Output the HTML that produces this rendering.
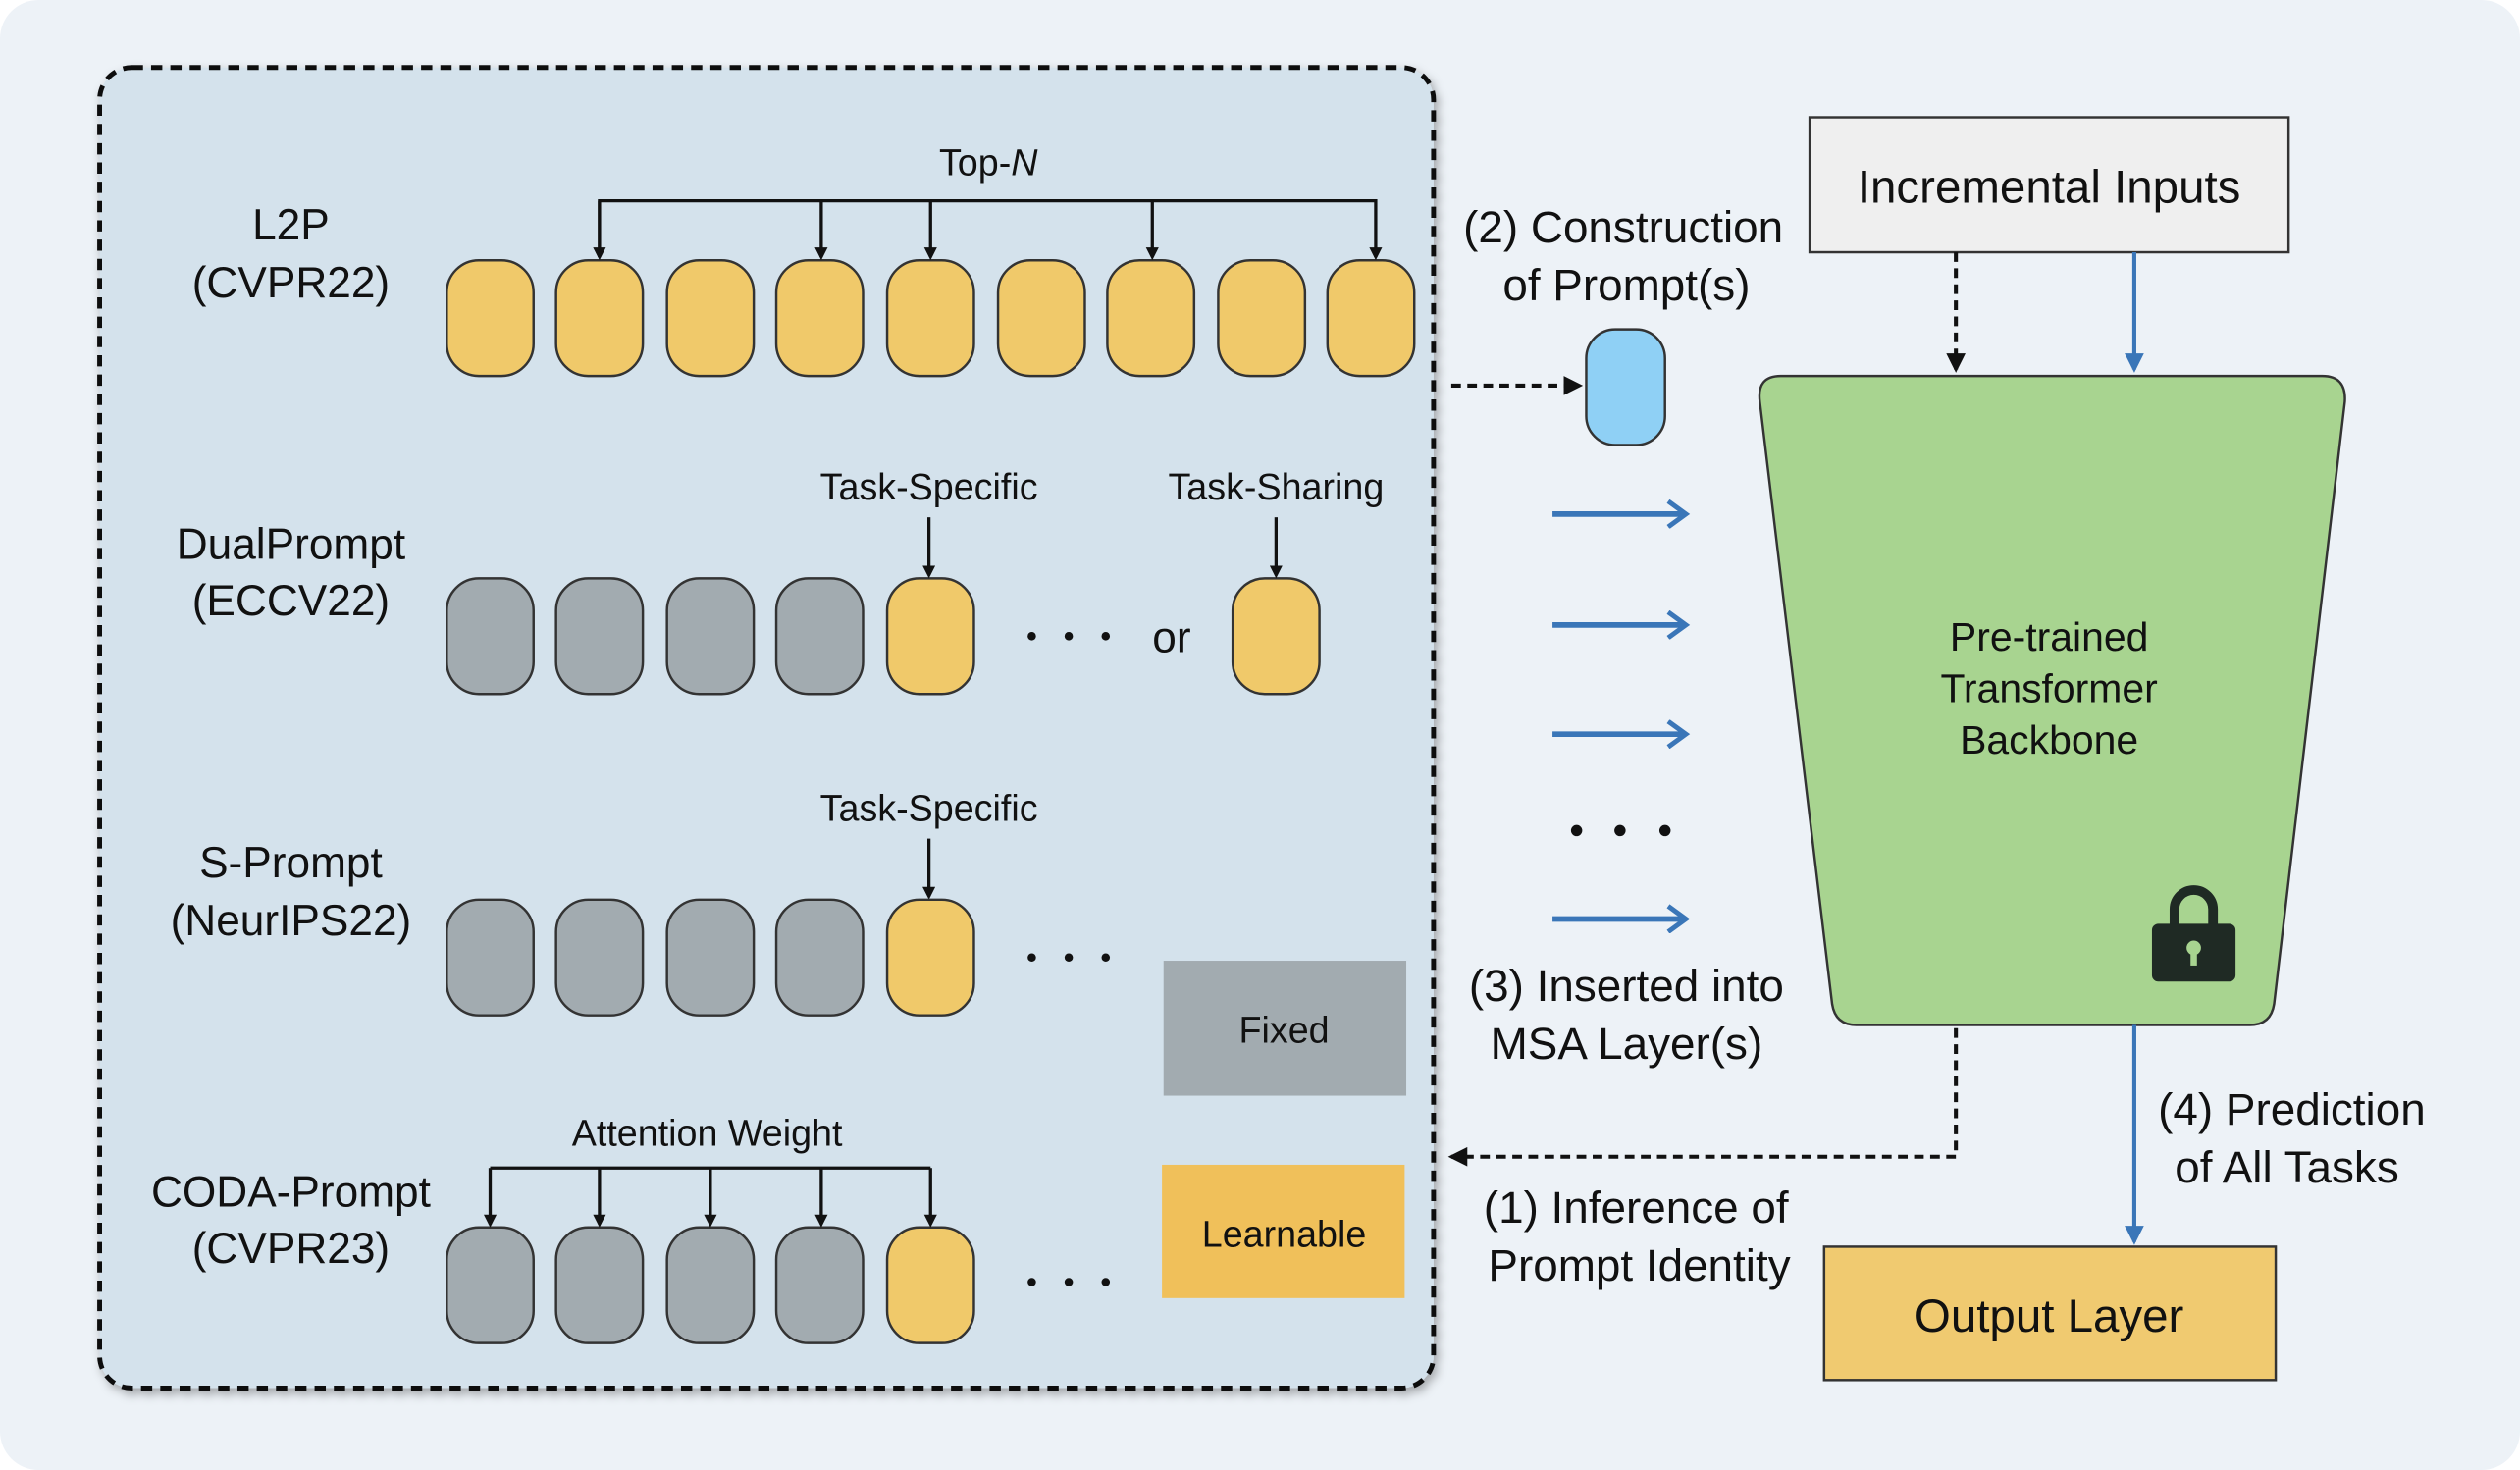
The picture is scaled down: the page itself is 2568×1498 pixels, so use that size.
<!DOCTYPE html>
<html><head><meta charset="utf-8"><style>
html,body{margin:0;padding:0;background:#fff;}
svg{display:block;}
text{font-family:"Liberation Sans",sans-serif;fill:#111;}
</style></head><body>
<svg width="2568" height="1498" viewBox="0 0 1568 915" preserveAspectRatio="none" xmlns="http://www.w3.org/2000/svg">
<defs>
<marker id="ab" markerWidth="8" markerHeight="8" refX="6" refY="4" orient="auto" markerUnits="userSpaceOnUse"><path d="M0,0 L8,4 L0,8 z" fill="#111"/></marker>
<marker id="ak" markerWidth="12" markerHeight="12" refX="10" refY="6" orient="auto" markerUnits="userSpaceOnUse"><path d="M0,0 L12,6 L0,12 z" fill="#111"/></marker>
<marker id="bl" markerWidth="12" markerHeight="12" refX="10" refY="6" orient="auto" markerUnits="userSpaceOnUse"><path d="M0,0 L12,6 L0,12 z" fill="#3a76b8"/></marker>
<marker id="bo" markerWidth="16" markerHeight="18" refX="12" refY="9" orient="auto" markerUnits="userSpaceOnUse"><path d="M2,1 L13,9 L2,17" fill="none" stroke="#3a76b8" stroke-width="3"/></marker>
<filter id="sh" x="-5%" y="-5%" width="110%" height="110%"><feDropShadow dx="2" dy="3" stdDeviation="3" flood-opacity="0.3"/></filter>
<g id="y"><rect width="54" height="72" rx="20" fill="#f0c96a" stroke="#333" stroke-width="1.5"/></g>
<g id="g"><rect width="54" height="72" rx="20" fill="#a2abb0" stroke="#333" stroke-width="1.5"/></g>
</defs>
<rect x="0" y="0" width="1568" height="915" rx="24" fill="#edf2f7"/>
<rect x="62" y="42" width="830" height="822" rx="20" fill="#d4e2ec" stroke="#111" stroke-width="3" stroke-dasharray="7,5" filter="url(#sh)"/>

<g font-size="27" text-anchor="middle">
<text x="181" y="149">L2P</text><text x="181" y="185">(CVPR22)</text>
<text x="181" y="348">DualPrompt</text><text x="181" y="383">(ECCV22)</text>
<text x="181" y="546">S-Prompt</text><text x="181" y="582">(NeurIPS22)</text>
<text x="181" y="751">CODA-Prompt</text><text x="181" y="786">(CVPR23)</text>
</g>

<use href="#y" x="278" y="162"/><use href="#y" x="346" y="162"/><use href="#y" x="415" y="162"/><use href="#y" x="483" y="162"/><use href="#y" x="552" y="162"/><use href="#y" x="621" y="162"/><use href="#y" x="689" y="162"/><use href="#y" x="758" y="162"/><use href="#y" x="826" y="162"/>
<text x="615" y="109" font-size="23" text-anchor="middle">Top-<tspan font-style="italic">N</tspan></text>
<path d="M373,160 V125 H856 V160" fill="none" stroke="#111" stroke-width="2" marker-end="url(#ab)"/>
<g stroke="#111" stroke-width="2"><line x1="373" y1="125" x2="373" y2="160" marker-end="url(#ab)"/><line x1="511" y1="125" x2="511" y2="160" marker-end="url(#ab)"/><line x1="579" y1="125" x2="579" y2="160" marker-end="url(#ab)"/><line x1="717" y1="125" x2="717" y2="160" marker-end="url(#ab)"/></g>

<use href="#g" x="278" y="360"/><use href="#g" x="346" y="360"/><use href="#g" x="415" y="360"/><use href="#g" x="483" y="360"/><use href="#y" x="552" y="360"/><use href="#y" x="767" y="360"/>
<g fill="#111"><circle cx="642" cy="396" r="2.6"/><circle cx="665" cy="396" r="2.6"/><circle cx="688" cy="396" r="2.6"/></g>
<text x="729" y="406" font-size="27" text-anchor="middle">or</text>
<g font-size="23" text-anchor="middle"><text x="578" y="311">Task-Specific</text><text x="794" y="311">Task-Sharing</text><text x="578" y="511">Task-Specific</text><text x="440" y="713">Attention Weight</text></g>
<g stroke="#111" stroke-width="2"><line x1="578" y1="322" x2="578" y2="358" marker-end="url(#ab)"/><line x1="794" y1="322" x2="794" y2="358" marker-end="url(#ab)"/><line x1="578" y1="522" x2="578" y2="558" marker-end="url(#ab)"/></g>

<use href="#g" x="278" y="560"/><use href="#g" x="346" y="560"/><use href="#g" x="415" y="560"/><use href="#g" x="483" y="560"/><use href="#y" x="552" y="560"/>
<g fill="#111"><circle cx="642" cy="596" r="2.6"/><circle cx="665" cy="596" r="2.6"/><circle cx="688" cy="596" r="2.6"/></g>

<use href="#g" x="278" y="764"/><use href="#g" x="346" y="764"/><use href="#g" x="415" y="764"/><use href="#g" x="483" y="764"/><use href="#y" x="552" y="764"/>
<g fill="#111"><circle cx="642" cy="798" r="2.6"/><circle cx="665" cy="798" r="2.6"/><circle cx="688" cy="798" r="2.6"/></g>
<path d="M305,727 H579" stroke="#111" stroke-width="2"/>
<g stroke="#111" stroke-width="2"><line x1="305" y1="727" x2="305" y2="762" marker-end="url(#ab)"/><line x1="373" y1="727" x2="373" y2="762" marker-end="url(#ab)"/><line x1="442" y1="727" x2="442" y2="762" marker-end="url(#ab)"/><line x1="511" y1="727" x2="511" y2="762" marker-end="url(#ab)"/><line x1="579" y1="727" x2="579" y2="762" marker-end="url(#ab)"/></g>

<rect x="724" y="598" width="151" height="84" fill="#a2abb0"/>
<text x="799" y="649" font-size="23" text-anchor="middle">Fixed</text>
<rect x="723" y="725" width="151" height="83" fill="#f0c05a"/>
<text x="799" y="776" font-size="23" text-anchor="middle">Learnable</text>

<rect x="1126" y="73" width="298" height="84" fill="#efefef" stroke="#333" stroke-width="1.5"/>
<text x="1275" y="126" font-size="29" text-anchor="middle">Incremental Inputs</text>
<path d="M1108,234 H1445 Q1460,234 1459,250 L1415,625 Q1413,638 1400,638 H1155 Q1142,638 1140,625 L1095,250 Q1093,234 1108,234 Z" fill="#a8d490" stroke="#333" stroke-width="1.5"/>
<g font-size="25" text-anchor="middle"><text x="1275" y="405">Pre-trained</text><text x="1275" y="437">Transformer</text><text x="1275" y="469">Backbone</text></g>
<path d="M1353,576 V566 A12,12 0 0 1 1377,566 V576" fill="none" stroke="#1f2a24" stroke-width="6"/>
<rect x="1339" y="575" width="52" height="36" rx="4" fill="#1f2a24"/>
<circle cx="1365" cy="590" r="4.5" fill="#a8d490"/><rect x="1363" y="592" width="4" height="9" fill="#a8d490"/>

<line x1="1217" y1="157" x2="1217" y2="230" stroke="#111" stroke-width="2.5" stroke-dasharray="6,4" marker-end="url(#ak)"/>
<line x1="1328" y1="157" x2="1328" y2="230" stroke="#3a76b8" stroke-width="2.5" marker-end="url(#bl)"/>
<rect x="1135" y="776" width="281" height="83" fill="#f0ca70" stroke="#333" stroke-width="1.5"/>
<text x="1275" y="829" font-size="29" text-anchor="middle">Output Layer</text>
<line x1="1328" y1="638" x2="1328" y2="773" stroke="#3a76b8" stroke-width="2.5" marker-end="url(#bl)"/>
<path d="M1217,640 V720 H903" fill="none" stroke="#111" stroke-width="2.5" stroke-dasharray="6,4" marker-end="url(#ak)"/>
<line x1="903" y1="240" x2="983" y2="240" stroke="#111" stroke-width="2.5" stroke-dasharray="6,4" marker-end="url(#ak)"/>
<rect x="987" y="205" width="49" height="72" rx="18" fill="#8fd0f5" stroke="#333" stroke-width="1.5"/>
<g stroke="#3a76b8" stroke-width="3.5"><line x1="966" y1="320" x2="1048" y2="320" marker-end="url(#bo)"/><line x1="966" y1="389" x2="1048" y2="389" marker-end="url(#bo)"/><line x1="966" y1="457" x2="1048" y2="457" marker-end="url(#bo)"/><line x1="966" y1="572" x2="1048" y2="572" marker-end="url(#bo)"/></g>
<g fill="#111"><circle cx="981" cy="517" r="3.5"/><circle cx="1008" cy="517" r="3.5"/><circle cx="1036" cy="517" r="3.5"/></g>
<g font-size="28" text-anchor="middle">
<text x="1010" y="151">(2) Construction</text><text x="1012" y="187">of Prompt(s)</text>
<text x="1012" y="623">(3) Inserted into</text><text x="1012" y="659">MSA Layer(s)</text>
<text x="1018" y="761">(1) Inference of</text><text x="1020" y="797">Prompt Identity</text>
<text x="1426" y="700">(4) Prediction</text><text x="1423" y="736">of All Tasks</text>
</g>
</svg>
</body></html>
